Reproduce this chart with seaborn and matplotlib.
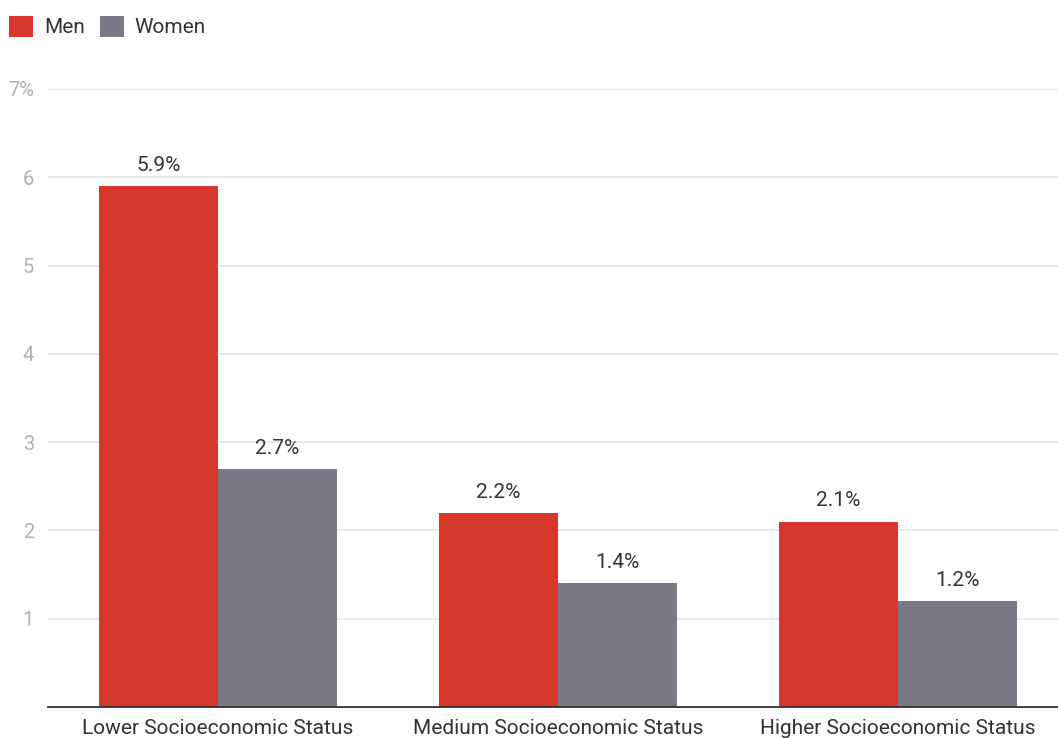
import matplotlib
matplotlib.use("Agg")
import matplotlib.pyplot as plt
import seaborn as sns
import pandas as pd
from matplotlib.patches import Patch

categories = ["Lower Socioeconomic Status", "Medium Socioeconomic Status", "Higher Socioeconomic Status"]
men = [5.9, 2.2, 2.1]
women = [2.7, 1.4, 1.2]
series = ["Men", "Women"]
yticks = [1, 2, 3, 4, 5, 6, 7]
ytick_labels = ["1", "2", "3", "4", "5", "6", "7%"]

colors = {"Men": "#D7362B", "Women": "#797885"}

df = pd.DataFrame({
    "category": categories * 2,
    "value": men + women,
    "series": ["Men"] * len(categories) + ["Women"] * len(categories),
})

sns.set_theme(style="white")
plt.rcParams["font.family"] = ["Roboto", "DejaVu Sans"]

fig = plt.figure(figsize=(10.58, 7.38), dpi=100)
ax = fig.add_axes([48 / 1058, 31 / 738, 1 - 48 / 1058, (707 - 89) / 738])

sns.barplot(data=df, x="category", y="value", hue="series", order=categories,
            hue_order=series, palette=colors, width=0.7, saturation=1,
            linewidth=0, edgecolor="none",
            ax=ax, legend=False, zorder=3)

ax.set_ylim(0, 7)
ax.set_xlim(-0.5, 2.47)
ax.set_yticks(yticks)
ax.set_yticklabels(ytick_labels)
ax.grid(axis="y", color="#e6e6e6", linewidth=1.2, zorder=0)
ax.set_axisbelow(True)
for s in ["left", "right", "top"]:
    ax.spines[s].set_visible(False)
ax.spines["bottom"].set_color("#333333")
ax.spines["bottom"].set_linewidth(1.3)
ax.spines["bottom"].set_zorder(5)
ax.tick_params(axis="y", length=0, labelsize=14.5, labelcolor="#b0b0b0", pad=10)
ax.tick_params(axis="x", length=0, labelsize=15, labelcolor="#333333", pad=9)
ax.set_xlabel("")
ax.set_ylabel("")

for cont in ax.containers:
    labels = [f"{v:.1f}%" for v in cont.datavalues]
    ax.bar_label(cont, labels=labels, padding=8, fontsize=15, color="#333333")

handles = [Patch(facecolor=colors[s], edgecolor="none", label=s) for s in series]
fig.legend(handles=handles, loc="upper left", bbox_to_anchor=(0.0, 0.991), ncol=2,
           frameon=False, fontsize=15, handlelength=1.15, handleheight=1.15,
           handletextpad=0.5, columnspacing=0.75, borderaxespad=0.15, borderpad=0.3,
           labelcolor="#333333")

fig.savefig("out.png", dpi=100)
